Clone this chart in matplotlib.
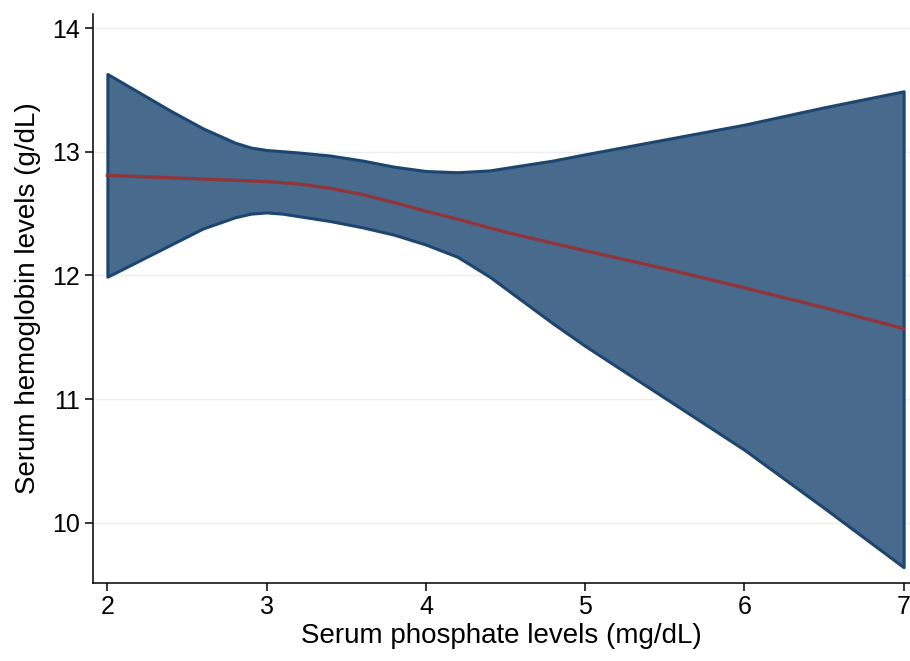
import matplotlib
matplotlib.use("Agg")
import matplotlib.pyplot as plt

plt.rcParams['font.family'] = ['Liberation Sans', 'DejaVu Sans']

# values
phosphate = [2.0, 2.2, 2.4, 2.6, 2.8, 2.9, 3.0, 3.1, 3.2, 3.4, 3.6, 3.8, 4.0, 4.2,
             4.4, 4.6, 4.8, 5.0, 5.5, 6.0, 6.5, 7.0]
upper_ci = [13.63, 13.48, 13.33, 13.19, 13.075, 13.035, 13.015, 13.005, 12.995, 12.97,
            12.93, 12.88, 12.845, 12.835, 12.85, 12.89, 12.93, 12.98, 13.10, 13.22,
            13.36, 13.49]
lower_ci = [11.99, 12.12, 12.25, 12.38, 12.47, 12.50, 12.51, 12.50, 12.48, 12.44,
            12.39, 12.33, 12.25, 12.15, 11.99, 11.80, 11.61, 11.43, 11.01, 10.59,
            10.12, 9.64]
fitted = [12.81, 12.80, 12.79, 12.78, 12.77, 12.765, 12.76, 12.75, 12.74, 12.705,
          12.655, 12.59, 12.52, 12.455, 12.385, 12.32, 12.26, 12.20, 12.055, 11.90,
          11.74, 11.57]

x_ticks = [2, 3, 4, 5, 6, 7]
y_ticks = [10, 11, 12, 13, 14]

fig = plt.figure(figsize=(9.1, 6.61), dpi=100)
ax = fig.add_axes([0.1019, 0.1185, 0.8981, 0.8603])

for yt in y_ticks:
    ax.axhline(yt, color='#eaf0f2', lw=1.0, zorder=0)

ax.fill_between(phosphate, lower_ci, upper_ci, facecolor='#486a8c',
                edgecolor='#1c4570', lw=2.2, zorder=2)
ax.plot(phosphate, fitted, color='#8f363c', lw=2.4, zorder=3)

ax.set_xlim(1.908, 7.04)
ax.set_ylim(9.515, 14.115)
ax.set_xticks(x_ticks)
ax.set_yticks(y_ticks)

for side in ['top', 'right']:
    ax.spines[side].set_visible(False)
for side in ['left', 'bottom']:
    ax.spines[side].set_linewidth(1.1)

ax.tick_params(axis='both', direction='out', length=6, width=1.1,
               labelsize=18, pad=3)

ax.set_xlabel('Serum phosphate levels (mg/dL)', fontsize=20, labelpad=3)
ax.set_ylabel('Serum hemoglobin levels (g/dL)', fontsize=20, labelpad=8)

fig.savefig('out.png', dpi=100)
